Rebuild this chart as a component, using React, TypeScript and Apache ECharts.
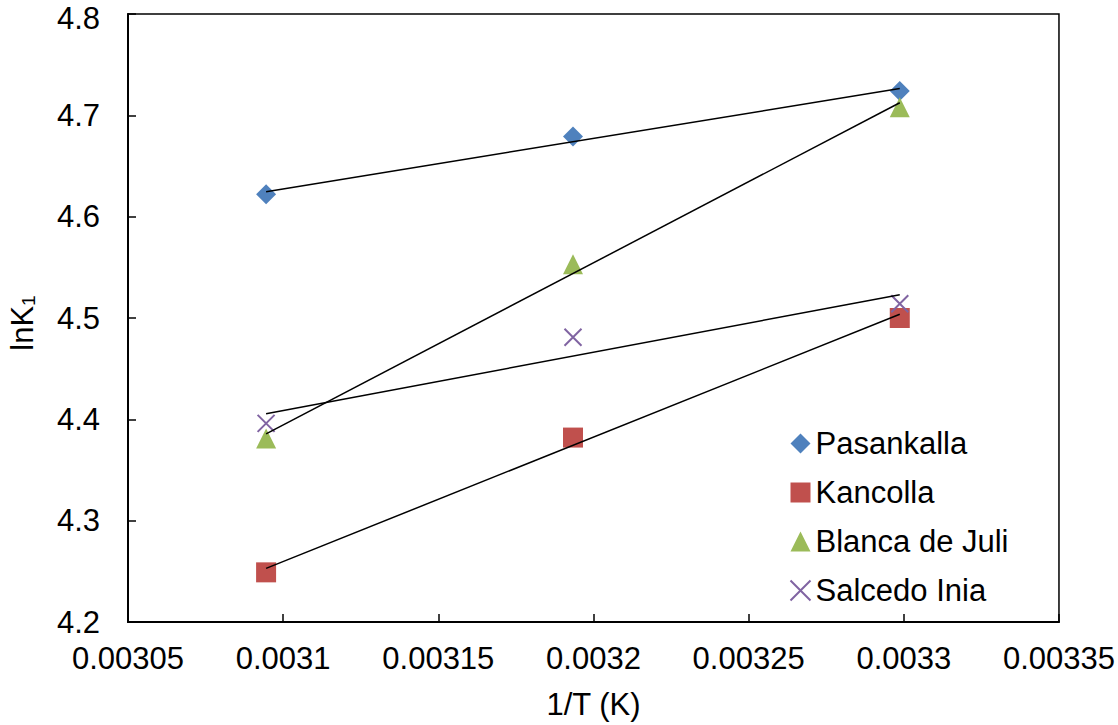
import React, { useEffect, useRef } from "react";
import * as echarts from "echarts";

const xValues = [0.0030945, 0.0031934, 0.0032987];
const pasankalla = [4.622, 4.679, 4.724];
const kancolla = [4.249, 4.382, 4.5];
const blancaDeJuli = [4.381, 4.553, 4.708];
const salcedoInia = [4.396, 4.481, 4.514];

const seriesNames = ["Pasankalla", "Kancolla", "Blanca de Juli", "Salcedo Inia"];
const seriesColors = ["#4F81BD", "#C0504D", "#9BBB59", "#8064A2"];
const crossPath = "path://M0,0L10,10M10,0L0,10";

function fit(xs: number[], ys: number[]) {
  const n = xs.length;
  const mx = xs.reduce((a, b) => a + b, 0) / n;
  const my = ys.reduce((a, b) => a + b, 0) / n;
  let sxy = 0, sxx = 0;
  for (let i = 0; i < n; i++) {
    sxy += (xs[i] - mx) * (ys[i] - my);
    sxx += (xs[i] - mx) * (xs[i] - mx);
  }
  const b = sxy / sxx;
  const a = my - b * mx;
  const x0 = Math.min(...xs), x1 = Math.max(...xs);
  return [[x0, a + b * x0], [x1, a + b * x1]];
}

export default function App() {
  const ref = useRef<HTMLDivElement>(null);
  useEffect(() => {
    if (!ref.current) return;
    const chart = echarts.init(ref.current, null, { renderer: "svg" });
    const font = "Liberation Sans, Arial, sans-serif";
    const fs = 31;
    const allY = [pasankalla, kancolla, blancaDeJuli, salcedoInia];
    const symbols = ["diamond", "rect", "triangle", crossPath];
    const styleFor = (i: number) =>
      i === 3
        ? { color: "none", borderColor: seriesColors[i], borderWidth: 2, opacity: 1 }
        : { color: seriesColors[i], opacity: 1 };
    const scatter = allY.map((ys, i) => ({
      name: seriesNames[i],
      type: "scatter",
      symbol: symbols[i],
      symbolSize: i === 3 ? 17 : 20,
      data: xValues.map((x, j) => [x, ys[j]]),
      itemStyle: styleFor(i),
      z: 2,
    }));
    const trends = allY.map((ys, i) => ({
      name: seriesNames[i] + " trend",
      type: "line",
      symbol: "none",
      silent: true,
      data: fit(xValues, ys),
      lineStyle: { color: "#000", width: 1.5 },
      z: 3,
    }));
    chart.setOption({
      animation: false,
      backgroundColor: "#fff",
      textStyle: { fontFamily: font },
      grid: {
        left: 128,
        right: 58,
        top: 14,
        bottom: 100,
        show: true,
        borderColor: "#000",
        borderWidth: 1.5,
      },
      legend: {
        orient: "vertical",
        left: 783,
        top: 423,
        itemWidth: 20,
        itemHeight: 20,
        itemGap: 18,
        textStyle: { fontSize: fs, color: "#000", fontFamily: font, lineHeight: 30 },
        data: seriesNames.map((n, i) => ({
          name: n,
          icon: symbols[i],
          itemStyle: styleFor(i),
        })),
      },
      xAxis: {
        type: "value",
        min: 0.00305,
        max: 0.00335,
        interval: 0.00005,
        name: "1/T (K)",
        nameLocation: "middle",
        nameGap: 67,
        nameTextStyle: { fontSize: fs, color: "#000", fontFamily: font },
        axisLine: { show: true, lineStyle: { color: "#000", width: 2 } },
        axisTick: { show: true, inside: true, length: 8, lineStyle: { color: "#000", width: 1.5 } },
        splitLine: { show: false },
        axisLabel: {
          fontSize: fs,
          color: "#000",
          fontFamily: font,
          margin: 21,
          showMaxLabel: true,
          showMinLabel: true,
          formatter: (v: number) => String(parseFloat(v.toPrecision(6))),
        },
      },
      yAxis: {
        type: "value",
        min: 4.2,
        max: 4.8,
        interval: 0.1,
        axisLine: { show: true, lineStyle: { color: "#000", width: 2 } },
        axisTick: { show: true, inside: true, length: 8, lineStyle: { color: "#000", width: 1.5 } },
        splitLine: { show: false },
        axisLabel: {
          fontSize: fs,
          color: "#000",
          fontFamily: font,
          margin: 28,
          formatter: (v: number) => (v > 4.79 ? "{top|" + v.toFixed(1) + "}" : v.toFixed(1)),
          rich: {
            top: { fontSize: fs, fontFamily: font, color: "#000", padding: [8, 0, 0, 0] },
          },
        },
      },
      graphic: [
        {
          type: "text",
          x: 22,
          y: 323,
          rotation: Math.PI / 2,
          style: {
            text: "lnK{s|1}",
            fontSize: fs,
            fontFamily: font,
            fill: "#000",
            align: "center",
            verticalAlign: "middle",
            rich: {
              s: { fontSize: 19, fontFamily: font, fill: "#000", verticalAlign: "bottom", padding: [13, 0, 0, 0] },
            },
          },
        },
      ],
      series: [...scatter, ...trends],
    });
    return () => chart.dispose();
  }, []);
  return (
    <div
      ref={ref}
      style={{ position: "fixed", left: 0, top: 0, width: 1118, height: 725 }}
    />
  );
}
